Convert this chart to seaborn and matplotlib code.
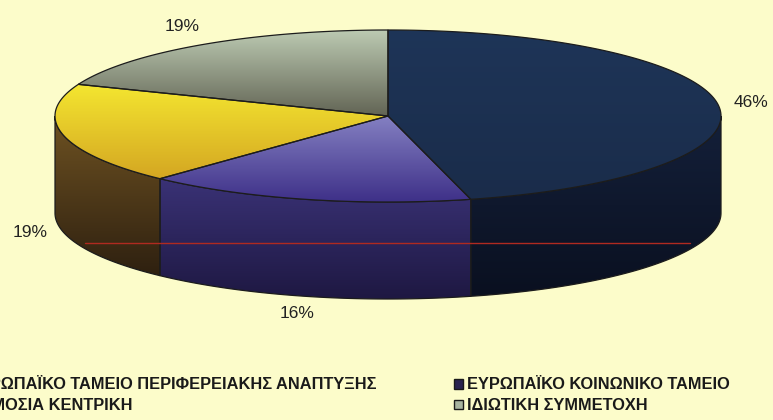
import numpy as np
import matplotlib
matplotlib.use("Agg")
import matplotlib.pyplot as plt
import seaborn as sns
from matplotlib.patches import Polygon, Patch
from matplotlib.colors import LinearSegmentedColormap

# data
labels = ["ΕΥΡΩΠΑΪΚΟ ΤΑΜΕΙΟ ΠΕΡΙΦΕΡΕΙΑΚΗΣ ΑΝΑΠΤΥΞΗΣ",
          "ΕΥΡΩΠΑΪΚΟ ΚΟΙΝΩΝΙΚΟ ΤΑΜΕΙΟ",
          "ΔΗΜΟΣΙΑ ΚΕΝΤΡΙΚΗ",
          "ΙΔΙΩΤΙΚΗ ΣΥΜΜΕΤΟΧΗ"]
shares = [46, 16, 19, 19]

# colours (top light->dark, side light->dark)
top_cols = [("#1e3558", "#1a2c4a"), ("#8480c2", "#3e3088"),
            ("#f4e630", "#d4a622"), ("#bccab2", "#626454")]
side_cols = [("#14203a", "#0a1020"), ("#3a3276", "#1e1842"),
             ("#6e5222", "#2e2010"), ("#5a5c50", "#34362e")]
legend_cols = ["#1a2c4a", "#2a2450", "#e0c020", "#a8b4a0"]

sns.set_theme(style="white")
plt.rcParams['font.family'] = ['Liberation Sans', 'DejaVu Sans']
bg = "#fcfcca"

fig = plt.figure(figsize=(7.73, 4.2), dpi=100, facecolor=bg)
ax = fig.add_axes([0, 0, 1, 1])
ax.set_facecolor(bg)
ax.axis('off')

cx, cy, a, b, depth = 388, 116, 333, 86, 97


def ell(t, dy=0):
    t = np.radians(t)
    return np.column_stack([cx + a * np.sin(t), cy - b * np.cos(t) + dy])


def fill_grad(xy, c1, c2, z):
    poly = Polygon(xy, closed=True, facecolor='none', edgecolor='#1c1c1c',
                   lw=0.9, zorder=z + 0.5)
    ax.add_patch(poly)
    x0, y0 = xy.min(0)
    x1, y1 = xy.max(0)
    cmap = LinearSegmentedColormap.from_list('g', [c1, c2])
    grad = np.linspace(0, 1, 256).reshape(-1, 1)
    im = ax.imshow(grad, cmap=cmap, extent=(x0, x1, y1, y0), aspect='auto',
                   zorder=z, interpolation='bilinear')
    im.set_clip_path(poly)


ends = np.cumsum(shares) / np.sum(shares) * 360
starts = np.concatenate([[0], ends[:-1]])

# side walls (front half only)
for i, (t0, t1) in enumerate(zip(starts, ends)):
    s0, s1 = max(t0, 90), min(t1, 270)
    if s1 <= s0:
        continue
    tt = np.linspace(s0, s1, 100)
    xy = np.vstack([ell(tt), ell(tt[::-1], depth)])
    fill_grad(xy, side_cols[i][0], side_cols[i][1], 1)

# top surfaces
for i, (t0, t1) in enumerate(zip(starts, ends)):
    tt = np.linspace(t0, t1, 150)
    xy = np.vstack([[cx, cy], ell(tt)])
    fill_grad(xy, top_cols[i][0], top_cols[i][1], 3)

# percentage labels
for i, (t0, t1) in enumerate(zip(starts, ends)):
    m = np.radians((t0 + t1) / 2)
    lx = cx + a * 1.1 * np.sin(m)
    ly = cy - b * 1.26 * np.cos(m)
    if np.cos(m) < 0:
        ly += 93
    ax.text(lx, ly, f"{shares[i]}%", ha='center', va='center',
            fontsize=12.5, color='#222222')

# thin red scan line
ax.plot([85, 690], [243, 243], color='#b02a20', lw=1.0, zorder=5)

ax.set_xlim(0, 773)
ax.set_ylim(420, 0)

handles = [Patch(facecolor=legend_cols[i], edgecolor='#1a1a1a', lw=1.0)
           for i in range(4)]
order = [0, 2, 1, 3]
fig.legend([handles[i] for i in order], [labels[i] for i in order],
           ncol=2, loc='upper left', bbox_to_anchor=(-0.070, 0.121),
           frameon=False,
           prop={'family': ['Liberation Sans', 'DejaVu Sans'],
                 'size': 11.8, 'weight': 'bold'},
           labelcolor='#1a1a1a',
           handlelength=0.55, handleheight=0.55, handletextpad=0.3,
           columnspacing=4.7, labelspacing=0.36, borderpad=0)

fig.savefig("out.png", dpi=100, facecolor=bg)
